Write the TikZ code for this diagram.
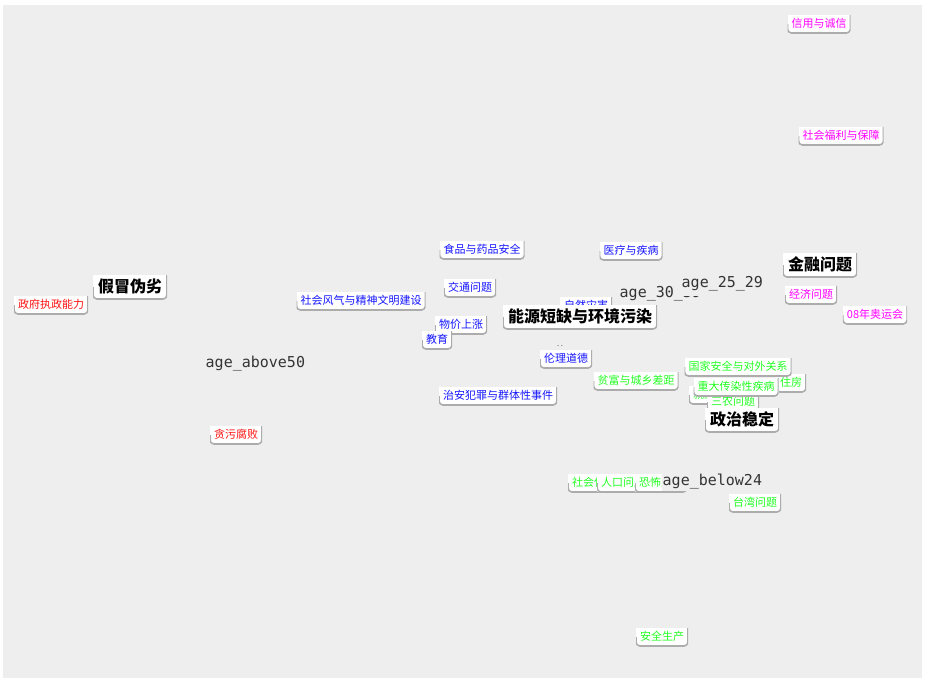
\documentclass[tikz,border=0pt]{standalone}
\usepackage{fontspec}
\newfontfamily\cjk{Noto Sans CJK SC}
\newfontfamily\agefont{DejaVu Sans Mono}
\definecolor{bgcol}{HTML}{EEEEEE}
\definecolor{agegray}{HTML}{333333}
\definecolor{mag}{HTML}{FF00FF}
\definecolor{grn}{HTML}{22FF22}
\definecolor{blu}{HTML}{1515FF}
\definecolor{rd}{HTML}{FF1010}
\tikzset{
  lbl/.style={fill=white, inner xsep=4pt, inner ysep=0pt, minimum height=18pt,
    text height=8.8pt, text depth=1pt, font=\cjk\fontsize{11}{11}\selectfont,
    path picture={\draw[line width=1.6pt, draw=gray!65, rounded corners=4pt]
      (path picture bounding box.west) |- (path picture bounding box.south east)
      -- (path picture bounding box.north east);}},
  biglbl/.style={lbl, minimum height=24pt, inner xsep=5pt, text height=12.6pt,
    text depth=1.4pt, font=\cjk\bfseries\fontsize{16}{16}\selectfont},
  agelbl/.style={fill=bgcol, inner xsep=0.5pt, inner ysep=2.5pt, anchor=base west,
    text=agegray, font=\agefont\fontsize{15}{15}\selectfont}
}
\begin{document}
\begin{tikzpicture}[x=1pt,y=1pt,yscale=-1,xscale=1]
\useasboundingbox (0,0) rectangle (925,681);
%Shape: Background
\fill[white] (0,0) rectangle (925,681);
\fill[bgcol] (3,5) rectangle (922,678);

% Magenta labels
\node[lbl, text=mag] (xinyong) at (819,24) {信用与诚信};
\node[lbl, text=mag] (fuli) at (841,136) {社会福利与保障};
\node[lbl, text=mag] (jingji) at (811,295) {经济问题};
\node[lbl, text=mag] (aoyun) at (875,315) {08年奥运会};

% Red labels
\node[lbl, text=rd] (zhizheng) at (51,305) {政府执政能力};
\node[lbl, text=rd] (tanwu) at (236,435) {贪污腐败};

% Blue labels
\node[lbl, text=blu] (shipin) at (482,250) {食品与药品安全};
\node[lbl, text=blu] (yiliao) at (631,251) {医疗与疾病};
\node[lbl, text=blu] (jiaotong) at (470,288) {交通问题};
\node[lbl, text=blu] (fengqi) at (361,301) {社会风气与精神文明建设};
\node[lbl, text=blu] (wujia) at (461,325) {物价上涨};
\node[lbl, text=blu] (jiaoyu) at (437,340) {教育};
\node[lbl, text=blu] (zaihai) at (586,306) {自然灾害};
\node[lbl, text=blu] (lunli) at (566,359) {伦理道德};
\node[lbl, text=blu] (zhian) at (498,396) {治安犯罪与群体性事件};

% Green labels
\node[lbl, text=grn] (pinfu) at (636,381) {贫富与城乡差距};
\node[lbl, text=grn] (zhufang) at (791,383) {住房};
\node[lbl, text=grn] (jiuye) at (704,395) {就业};
\node[lbl, text=grn] (sannong) at (733,402) {三农问题};
\node[lbl, text=grn] (chuanran) at (736,387) {重大传染性疾病};
\node[lbl, text=grn] (guojia) at (738,367) {国家安全与对外关系};
\node[lbl, text=grn] (baozhang) at (594,483) {社会保障};
\node[lbl, text=grn] (renkou) at (623,483) {人口问题};
\node[lbl, text=grn] (kongbu) at (661,483) {恐怖主义};
\node[lbl, text=grn] (taiwan) at (755,503) {台湾问题};
\node[lbl, text=grn] (anquan) at (662,637) {安全生产};

% Black labels
\node[biglbl] (jiamao) at (130,287) {假冒伪劣};
\node[biglbl] (nengyuan) at (580,317) {能源短缺与环境污染};
\node[biglbl] (jinrong) at (820,265) {金融问题};
\node[biglbl] (zhengzhi) at (742,420) {政治稳定};

% Age groups
\node[agelbl] (above50) at (205,367) {age\_above50};
\node[agelbl] (age3039) at (619,297) {age\_30\_39};
\node[agelbl, inner ysep=5pt] (age2529) at (681,287) {age\_25\_29};
\node[agelbl] (below24) at (662,485) {age\_below24};
\node[text=agegray, inner sep=0pt, font=\agefont\fontsize{6}{6}\selectfont] (dots) at (560,346) {..};

\end{tikzpicture}
\end{document}
